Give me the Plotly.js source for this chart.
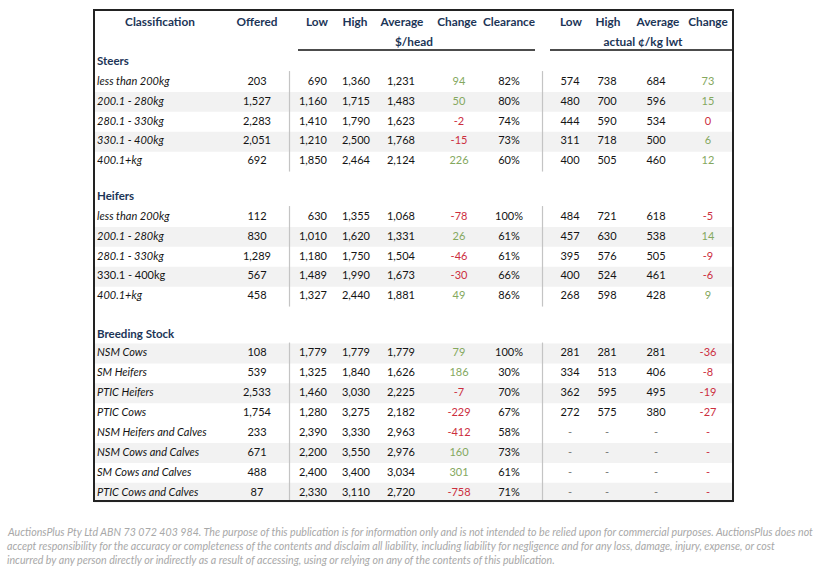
<!DOCTYPE html>
<html><head><meta charset="utf-8">
<script src="https://cdn.plot.ly/plotly-3.0.1.min.js"></script>
<style>html,body{margin:0;padding:0;background:#fff}</style>
</head><body><div id="chart" style="width:821px;height:568px"></div>
<script>
// ---------------- DATA ----------------
const headerLabels = ["Classification","Offered","Low","High","Average","Change","Clearance","Low","High","Average","Change"];
const groupLabels = ["$/head","actual ¢/kg lwt"];
const sectionNames = ["Steers","Heifers","Breeding Stock"];

const steerClasses = ["less than 200kg","200.1 - 280kg","280.1 - 330kg","330.1 - 400kg","400.1+kg"];
const steerOffered = [203,1527,2283,2051,692];
const steerLow = [690,1160,1410,1210,1850];
const steerHigh = [1360,1715,1790,2500,2464];
const steerAvg = [1231,1483,1623,1768,2124];
const steerChange = [94,50,-2,-15,226];
const steerClearance = [82,80,74,73,60];
const steerLowKg = [574,480,444,311,400];
const steerHighKg = [738,700,590,718,505];
const steerAvgKg = [684,596,534,500,460];
const steerChangeKg = [73,15,0,6,12];

const heiferClasses = ["less than 200kg","200.1 - 280kg","280.1 - 330kg","330.1 - 400kg","400.1+kg"];
const heiferOffered = [112,830,1289,567,458];
const heiferLow = [630,1010,1180,1489,1327];
const heiferHigh = [1355,1620,1750,1990,2440];
const heiferAvg = [1068,1331,1504,1673,1881];
const heiferChange = [-78,26,-46,-30,49];
const heiferClearance = [100,61,61,66,86];
const heiferLowKg = [484,457,395,400,268];
const heiferHighKg = [721,630,576,524,598];
const heiferAvgKg = [618,538,505,461,428];
const heiferChangeKg = [-5,14,-9,-6,9];

const breedClasses = ["NSM Cows","SM Heifers","PTIC Heifers","PTIC Cows","NSM Heifers and Calves","NSM Cows and Calves","SM Cows and Calves","PTIC Cows and Calves"];
const breedOffered = [108,539,2533,1754,233,671,488,87];
const breedLow = [1779,1325,1460,1280,2390,2200,2400,2330];
const breedHigh = [1779,1840,3030,3275,3330,3550,3400,3110];
const breedAvg = [1779,1626,2225,2182,2963,2976,3034,2720];
const breedChange = [79,186,-7,-229,-412,160,301,-758];
const breedClearance = [100,30,70,67,58,73,61,71];
const breedLowKg = [281,334,362,272,null,null,null,null];
const breedHighKg = [281,513,595,575,null,null,null,null];
const breedAvgKg = [281,406,495,380,null,null,null,null];
const breedChangeKg = [-36,-8,-19,-27,null,null,null,null];

const footerLines = [
  "AuctionsPlus Pty Ltd ABN 73 072 403 984. The purpose of this publication is for information only and is not intended to be relied upon for commercial purposes. AuctionsPlus does not",
  "accept responsibility for the accuracy or completeness of the contents and disclaim all liability, including liability for negligence and for any loss, damage, injury, expense, or cost",
  "incurred by any person directly or indirectly as a result of accessing, using or relying on any of the contents of this publication."
];

// ---------------- LAYOUT / STYLE ----------------
const W = 821, H = 568;
const NAVY = "#1c3557", TXT = "#141414", GREEN = "#84a85e", RED = "#cc2e3e", SHADE = "#f2f2f2";
const FONT = "Lato, 'Open Sans', sans-serif";
const boxL = 94, boxR = 733, boxT = 10, boxB = 501;
const colX = [97, 257, 327, 356, 401, 459, 509, 570, 607, 656, 708];
const headColX = [160, 257, 317, 355, 402, 457, 509, 571, 608, 658, 708];
const colPos = ["middle right","middle center","middle left","middle center","middle center","middle center","middle center","middle center","middle center","middle center","middle center"];
const headY1 = 23, headY2 = 43, underY = 50;
const sectionLabelY = [62, 197, 335];
const firstRowY = [82, 217, 353.5];
const rowPitch = 19.9;
const shading = [[0,1,0,1,0],[0,1,0,1,0],[1,0,1,0,0,1,0,1]];
const uprightRows = [[],[3],[]];
const sepX = [289.5, 542.5];

// ---------------- BUILD ----------------
const fmt = v => (v === null || v === undefined) ? "-" : v.toLocaleString("en-US");
const pct = v => v + "%";
const chgColor = v => (v === null || v <= 0) ? RED : GREEN;

const sections = [
  [steerClasses, steerOffered, steerLow, steerHigh, steerAvg, steerChange, steerClearance, steerLowKg, steerHighKg, steerAvgKg, steerChangeKg],
  [heiferClasses, heiferOffered, heiferLow, heiferHigh, heiferAvg, heiferChange, heiferClearance, heiferLowKg, heiferHighKg, heiferAvgKg, heiferChangeKg],
  [breedClasses, breedOffered, breedLow, breedHigh, breedAvg, breedChange, breedClearance, breedLowKg, breedHighKg, breedAvgKg, breedChangeKg]
];

const cols = colX.map(() => ({y: [], text: [], color: []}));
const shapes = [];
sections.forEach((sec, s) => {
  const n = sec[0].length;
  for (let r = 0; r < n; r++) {
    const y = firstRowY[s] + r * rowPitch;
    if (shading[s][r]) {
      shapes.push({type:"rect", xref:"x", yref:"y", x0: boxL, x1: boxR, y0: y - rowPitch/2, y1: y + rowPitch/2,
        fillcolor: SHADE, line:{width:0}, layer:"below"});
    }
    for (let c = 0; c < colX.length; c++) {
      const v = sec[c][r];
      let t, col = TXT;
      if (c === 0) t = uprightRows[s].includes(r) ? v : "<i>" + v + "</i>";
      else if (c === 6) t = pct(v);
      else t = fmt(v);
      if (c === 5 || c === 10) col = chgColor(v);
      if (v === null && c !== 10) col = "#777";
      cols[c].y.push(y); cols[c].text.push(t); cols[c].color.push(col);
    }
  }
  const yTop = firstRowY[s] - rowPitch/2 - 1;
  const yBot = s === 2 ? boxB : firstRowY[s] + (n - 1) * rowPitch + rowPitch/2;
  sepX.forEach(x => shapes.push({type:"line", xref:"x", yref:"y", x0:x, x1:x, y0:yTop, y1:yBot, line:{color:"#c4c4c4", width:1.2}}));
});

const traces = cols.map((c, i) => ({
  type:"scatter", mode:"text", hoverinfo:"skip", showlegend:false,
  x: c.y.map(() => colX[i]), y: c.y, text: c.text,
  textposition: colPos[i],
  textfont: {family: FONT, size: 11, color: c.color}
}));

traces.push({
  type:"scatter", mode:"text", hoverinfo:"skip", showlegend:false,
  x: sectionNames.map(() => 97), y: sectionLabelY,
  text: sectionNames.map(s => "<b>" + s + "</b>"),
  textposition:"middle right",
  textfont:{family: FONT, size: 11.5, color: NAVY}
});
traces.push({
  type:"scatter", mode:"text", hoverinfo:"skip", showlegend:false,
  x: headColX, y: headColX.map(() => headY1),
  text: headerLabels.map(s => "<b>" + s + "</b>"),
  textposition:"middle center",
  textfont:{family: FONT, size: 11.8, color: NAVY}
});
traces.push({
  type:"scatter", mode:"text", hoverinfo:"skip", showlegend:false,
  x: [414, 643], y: [headY2, headY2],
  text: groupLabels.map(s => "<b>" + s + "</b>"),
  textposition:"middle center",
  textfont:{family: FONT, size: 11.8, color: NAVY}
});

// header underlines
shapes.push({type:"line", xref:"x", yref:"y", x0:298, x1:535, y0:underY, y1:underY, line:{color:"#111", width:1.5}});
shapes.push({type:"line", xref:"x", yref:"y", x0:550, x1:boxR, y0:underY, y1:underY, line:{color:"#111", width:1.5}});
// box
shapes.push({type:"rect", xref:"x", yref:"y", x0:boxL, x1:boxR, y0:boxT, y1:boxB, line:{color:"#222", width:2}, fillcolor:"rgba(0,0,0,0)"});

const annotations = footerLines.map((t, i) => ({
  xref:"x", yref:"y", x:5, y:531 + i * 14, text:"<i>" + t + "</i>", showarrow:false,
  xanchor:"left", yanchor:"middle", font:{family: FONT, size: 10.65, color:"#a8a8a8"}
}));

const layout = {
  width: W, height: H, margin:{l:0, r:0, t:0, b:0},
  paper_bgcolor:"#fff", plot_bgcolor:"#fff",
  xaxis:{range:[0, W], visible:false, fixedrange:true},
  yaxis:{range:[H, 0], visible:false, fixedrange:true},
  shapes: shapes, annotations: annotations, showlegend:false
};
Plotly.newPlot("chart", traces, layout, {displayModeBar:false, staticPlot:true});
</script>
</body></html>
